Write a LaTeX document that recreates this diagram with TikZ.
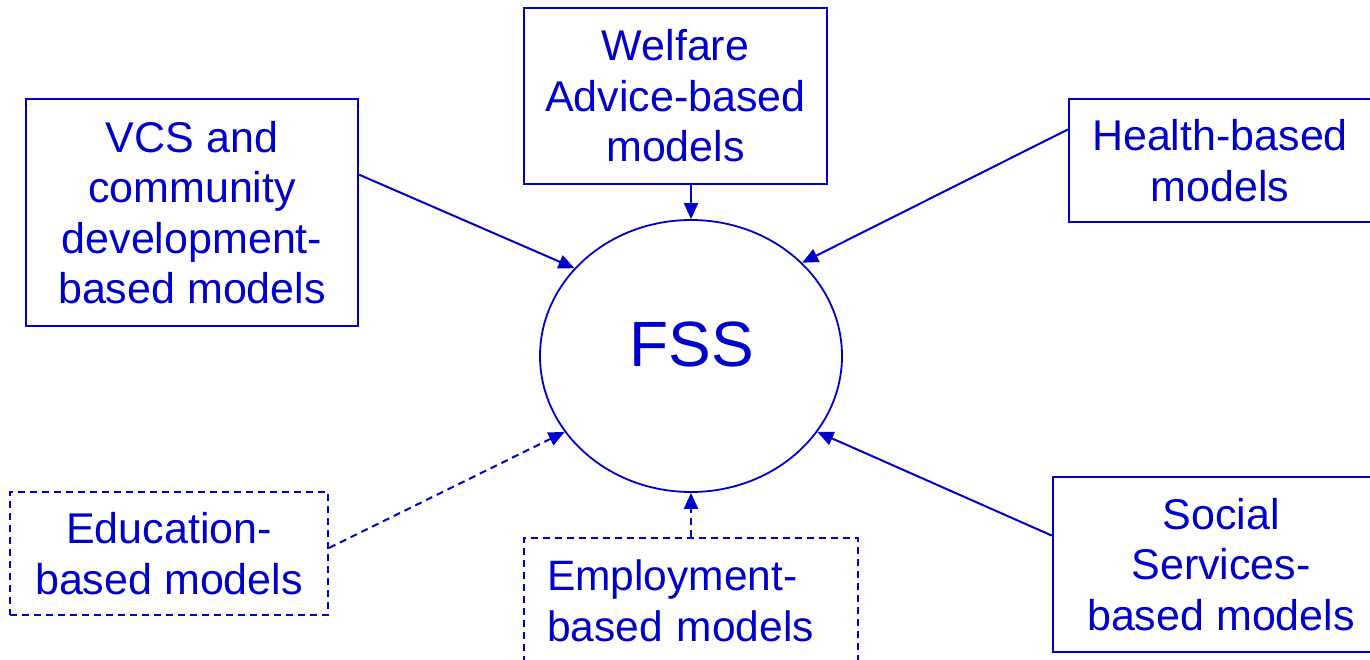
\documentclass[tikz,border=0pt]{standalone}
\usepackage{fontspec}
\setmainfont{Liberation Sans}
\usetikzlibrary{shapes.geometric,arrows.meta,calc}
\definecolor{ink}{RGB}{0,0,204}
\tikzset{
  modelbox/.style={draw=ink, text=ink, line width=2.2pt, rectangle, inner sep=0pt,
    align=center, font=\fontsize{43}{50.5}\selectfont},
  dashedbox/.style={modelbox, dash pattern=on 7pt off 5pt},
  link/.style={draw=ink, line width=2pt, -{Triangle[length=16pt,width=14pt]}},
  dashedlink/.style={link, dash pattern=on 7pt off 5pt}
}
\begin{document}
\begin{tikzpicture}[x=1pt,y=-1pt]
  \useasboundingbox (0,0) rectangle (1370,660);
  \clip (0,0) rectangle (1370,660);

  % central ellipse and its label
  \node[ellipse, draw=ink, line width=1.8pt, minimum width=302pt, minimum height=272pt, inner sep=0pt]
    (fss) at (691,356) {};
  \node[text=ink, font=\fontsize{64}{70}\selectfont, inner sep=0pt] (fsslabel) at (691.5,344) {FSS};

  % surrounding model boxes
  \node[modelbox, minimum width=332pt, minimum height=227pt] (vcs) at (192,212.5)
    {VCS and\\community\\development-\\based models};
  \node[modelbox, minimum width=303pt, minimum height=176pt] (welfare) at (675.5,96)
    {Welfare\\Advice-based\\models};
  \node[modelbox, minimum width=302pt, minimum height=123pt] (health) at (1220,160.5)
    {Health-based\\models};
  \node[modelbox, minimum width=336pt, minimum height=175pt] (social) at (1221,564.5)
    {Social\\Services-\\based models};
  \node[dashedbox, minimum width=318pt, minimum height=123pt] (education) at (169,553.5)
    {Education-\\based models};
  \node[dashedbox, text width=288pt, inner xsep=23pt, align=left, minimum height=126pt,
    font=\fontsize{42.5}{50.5}\selectfont]
    (employment) at (691,601) {Employment-\\based models};

  % connectors into the ellipse
  \draw[link] ($(vcs.north east)!0.335!(vcs.south east)$) -- (fss.143.5);
  \draw[link] (fss.north |- welfare.south) -- (fss.north);
  \draw[link] ($(health.north west)!0.252!(health.south west)$) -- (fss.40.5);
  \draw[link] ($(social.north west)!0.337!(social.south west)$) -- (fss.-31.5);
  \draw[dashedlink] ($(education.north east)!0.455!(education.south east)$) -- (fss.211.5);
  \draw[dashedlink] (employment.north) -- (fss.south);
\end{tikzpicture}
\end{document}
